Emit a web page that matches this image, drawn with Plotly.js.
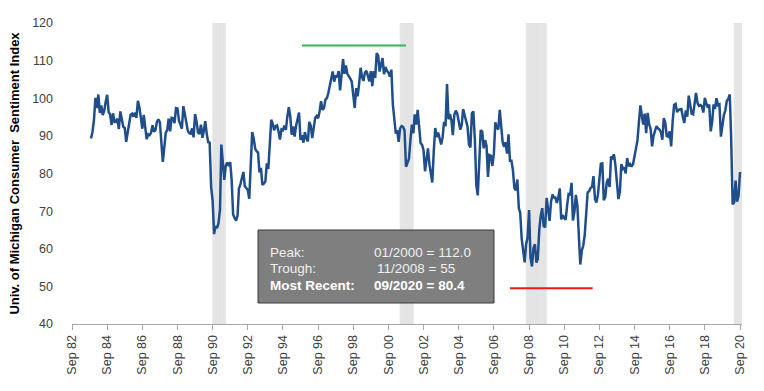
<!DOCTYPE html>
<html>
<head>
<meta charset="utf-8">
<script src="https://cdn.plot.ly/plotly-3.0.1.min.js"></script>
<style>html,body{margin:0;padding:0;background:#fff;}#chart{width:764px;height:391px;}</style>
</head>
<body>
<div id="chart"></div>
<script>
// ---- Data ----
const firstMonth = [1983, 10]; // Oct 1983
const sentiment1983 = [89.3, 91.1, 94.2];
const sentiment1984_1989 = [
  100.1, 97.4, 101.0, 96.1, 98.1, 95.5, 96.6, 99.1, 100.9, 96.3, 95.7, 92.9,
  96.0, 93.7, 93.7, 94.6, 91.8, 96.5, 94.0, 92.4, 92.1, 88.4, 90.9, 93.9,
  95.6, 95.9, 95.1, 96.2, 94.8, 99.3, 97.7, 94.9, 91.9, 95.6, 91.4, 89.1,
  90.4, 90.2, 90.8, 92.8, 91.1, 91.5, 93.7, 94.4, 93.6, 89.3, 83.1, 86.8,
  90.8, 91.6, 94.6, 91.2, 94.8, 94.7, 93.4, 97.4, 97.3, 94.1, 93.0, 91.9,
  97.9, 95.4, 94.3, 91.5, 90.7, 90.6, 92.0, 89.6, 95.8, 93.9, 90.9, 90.5];
const sentiment1990s = [
  93.0, 89.5, 91.3, 93.9, 90.6, 88.3, 88.2, 76.4, 72.8, 63.9, 66.0, 65.5,
  66.8, 70.4, 87.7, 81.8, 78.3, 82.1, 82.9, 82.0, 83.0, 78.3, 69.1, 68.2,
  67.5, 68.8, 76.0, 77.2, 79.2, 80.4, 76.6, 76.1, 75.6, 73.3, 85.3, 91.0,
  89.3, 86.6, 85.9, 85.6, 80.3, 81.5, 77.0, 77.3, 77.9, 82.7, 81.2, 88.2,
  94.3, 93.2, 91.5, 92.6, 92.8, 91.2, 89.0, 91.7, 91.5, 92.7, 91.6, 95.1,
  97.6, 95.1, 90.3, 92.5, 89.8, 92.7, 94.4, 96.2, 88.9, 90.2, 88.2, 91.0,
  89.3, 88.5, 93.7, 92.7, 89.4, 92.4, 94.7, 95.3, 94.7, 96.5, 99.2, 96.9,
  97.4, 99.7, 100.0, 101.4, 103.2, 104.5, 107.1, 104.4, 106.0, 105.6, 107.2, 102.1,
  106.6, 110.4, 106.5, 108.7, 106.5, 105.6, 105.2, 104.4, 100.9, 97.4, 102.7, 100.5,
  103.9, 108.1, 105.7, 104.6, 106.8, 107.3, 106.0, 104.5, 107.2, 103.2, 107.2, 105.4];
const sentiment2000s = [
  112.0, 111.3, 107.1, 109.2, 110.7, 106.4, 108.3, 107.3, 106.8, 105.8, 107.6, 98.4,
  94.7, 90.6, 91.5, 88.4, 92.0, 92.6, 92.4, 91.5, 81.8, 82.7, 83.9, 88.8,
  93.0, 90.7, 95.7, 93.0, 96.9, 92.4, 88.1, 87.6, 86.1, 80.6, 84.2, 86.7,
  82.4, 79.9, 77.6, 86.0, 92.1, 89.7, 90.9, 89.3, 87.7, 89.6, 93.7, 92.6,
  103.8, 94.4, 95.8, 94.2, 90.2, 95.6, 96.7, 95.9, 94.2, 91.7, 92.8, 97.1,
  95.5, 94.1, 92.6, 87.7, 86.9, 96.0, 96.5, 89.1, 76.9, 74.2, 81.6, 91.5,
  91.2, 86.7, 88.9, 87.4, 79.1, 84.9, 84.7, 82.0, 85.4, 93.6, 92.1, 91.7,
  96.9, 91.3, 88.4, 87.1, 88.3, 85.3, 90.4, 83.4, 83.4, 80.9, 76.1, 75.5,
  78.4, 70.8, 69.5, 62.6, 59.8, 56.4, 61.2, 63.0, 70.3, 57.6, 55.3, 60.1,
  61.2, 56.3, 57.3, 65.1, 68.7, 70.8, 66.0, 65.7, 73.5, 70.6, 67.4, 72.5];
const sentiment2010s = [
  74.4, 73.6, 73.6, 72.2, 73.6, 76.0, 67.8, 68.9, 68.2, 67.7, 71.6, 74.5,
  74.2, 77.5, 67.5, 69.8, 74.3, 71.5, 63.7, 55.8, 59.5, 60.8, 63.7, 69.9,
  75.0, 75.3, 76.2, 76.4, 79.3, 73.2, 72.3, 74.3, 78.3, 82.6, 82.7, 72.9,
  73.8, 77.6, 78.6, 76.4, 84.5, 84.1, 85.1, 82.1, 77.5, 73.2, 75.1, 82.5,
  81.2, 81.6, 80.0, 84.1, 81.9, 82.5, 81.8, 82.5, 84.6, 86.9, 88.8, 93.6,
  98.1, 95.4, 93.0, 95.9, 90.7, 96.1, 93.1, 91.9, 87.2, 90.0, 91.3, 92.6,
  92.0, 91.7, 91.0, 89.0, 94.7, 93.5, 90.0, 89.8, 91.2, 87.2, 93.8, 98.2,
  98.5, 96.3, 96.9, 97.0, 97.1, 95.0, 93.4, 96.8, 95.1, 100.7, 98.5, 95.9,
  95.7, 99.7, 101.4, 98.8, 98.0, 98.2, 97.9, 96.2, 100.1, 98.6, 97.5, 98.3,
  91.2, 93.8, 98.4, 97.2, 100.0, 98.2, 98.4, 89.8, 93.2, 95.5, 96.8, 99.3];
const sentiment2020 = [99.8, 101.0, 89.1, 71.8, 72.3, 78.1, 72.5, 74.1, 80.4];

// shaded recession periods: first and last shaded month
const recessionStarts = [[1990, 9], [2001, 5], [2008, 7], [2020, 5]];
const recessionEnds   = [[1991, 5], [2002, 1], [2009, 8], [2020, 10]];

const peakLineDates = ['1995-10-01', '2001-09-01'];
const peakLineLevel = 114;
const troughLineDates = ['2007-08-01', '2012-04-15'];
const troughLineLevel = 49.5;

const tickDates = ['1982-09-01','1984-09-01','1986-09-01','1988-09-01','1990-09-01','1992-09-01',
  '1994-09-01','1996-09-01','1998-09-01','2000-09-01','2002-09-01','2004-09-01','2006-09-01',
  '2008-09-01','2010-09-01','2012-09-01','2014-09-01','2016-09-01','2018-09-01','2020-09-01'];
const tickLabels = ['Sep 82','Sep 84','Sep 86','Sep 88','Sep 90','Sep 92','Sep 94','Sep 96',
  'Sep 98','Sep 00','Sep 02','Sep 04','Sep 06','Sep 08','Sep 10','Sep 12','Sep 14','Sep 16',
  'Sep 18','Sep 20'];
const yTicks = [40, 50, 60, 70, 80, 90, 100, 110, 120];

const boxLabels = ['Peak:', 'Trough:', 'Most Recent:'];
const boxValues = ['01/2000 = 112.0', '11/2008 = 55', '09/2020 = 80.4'];

// ---- Build ----
const ymd = (y, m, d) => y + '-' + String(m).padStart(2, '0') + '-' + String(d).padStart(2, '0');
const values = [].concat(sentiment1983, sentiment1984_1989, sentiment1990s, sentiment2000s, sentiment2010s, sentiment2020);
const dates = values.map((v, i) => {
  const m0 = firstMonth[1] - 1 + i;
  return ymd(firstMonth[0] + Math.floor(m0 / 12), (m0 % 12) + 1, 1);
});

// recession months as bars (one per month, gives the striped look)
const recX = [], recY = [];
recessionStarts.forEach((s, i) => {
  let y = s[0], m = s[1];
  const e = recessionEnds[i];
  while (y < e[0] || (y === e[0] && m <= e[1])) {
    recX.push(ymd(y, m, 16));
    recY.push(80);
    m++; if (m > 12) { m = 1; y++; }
  }
});

const FONT = 'Liberation Sans, Arial, sans-serif';

const traces = [
  {
    x: recX, y: recY, base: 40, type: 'bar', width: 30.4 * 86400000,
    marker: {color: '#E9E9E9', line: {color: '#DCDCDC', width: 0.4}},
    hoverinfo: 'skip', showlegend: false
  },
  {
    x: dates, y: values, type: 'scatter', mode: 'lines',
    line: {color: '#1F4E8A', width: 2.5}, hoverinfo: 'skip', showlegend: false
  },
  {
    x: peakLineDates, y: [peakLineLevel, peakLineLevel], type: 'scatter', mode: 'lines',
    line: {color: '#2DB85A', width: 2}, showlegend: false
  },
  {
    x: troughLineDates, y: [troughLineLevel, troughLineLevel], type: 'scatter', mode: 'lines',
    line: {color: '#F01818', width: 2}, showlegend: false
  }
];

// annotation box (pixel layout converted to paper coords)
const plotL = 72, plotT = 23, plotW = 764 - 72 - 22, plotH = 391 - 23 - 67;
const px = x => (x - plotL) / plotW;
const py = y => 1 - (y - plotT) / plotH;
const shapes = [{
  type: 'rect', xref: 'paper', yref: 'paper', x0: px(258), x1: px(494), y0: py(303), y1: py(230),
  fillcolor: '#7F7F7F', line: {color: '#3A3A3A', width: 1}, layer: 'above'
}];

const annotations = [];
const lineY = [252, 268.5, 285];
boxLabels.forEach((t, i) => {
  const bold = i === 2;
  const f = {family: FONT, size: 13.5, color: bold ? '#FFFFFF' : '#F0F0F0'};
  annotations.push({
    xref: 'paper', yref: 'paper', x: px(268), y: py(lineY[i]), xanchor: 'left', yanchor: 'middle',
    text: bold ? '<b>' + t + '</b>' : t, showarrow: false, font: f
  });
  annotations.push({
    xref: 'paper', yref: 'paper', x: px(i === 1 ? 375 : 372), y: py(lineY[i]), xanchor: 'left', yanchor: 'middle',
    text: bold ? '<b>' + boxValues[i] + '</b>' : boxValues[i], showarrow: false, font: f
  });
});

const layout = {
  width: 764, height: 391,
  margin: {l: 72, r: 22, t: 23, b: 67},
  paper_bgcolor: '#FFFFFF', plot_bgcolor: '#FFFFFF',
  font: {family: FONT, size: 12, color: '#404040'},
  showlegend: false, bargap: 0,
  xaxis: {
    type: 'date', range: ['1982-09-01', '2020-10-12'],
    tickvals: tickDates, ticktext: tickLabels, tickangle: -90,
    showgrid: false, zeroline: false, showline: true, linecolor: '#A6A6A6', linewidth: 1,
    ticks: 'outside', ticklen: 5, tickcolor: '#A6A6A6', tickwidth: 1,
    tickfont: {family: FONT, size: 12.5, color: '#404040'}
  },
  yaxis: {
    range: [40, 120], tickvals: yTicks, showgrid: false, zeroline: false, showline: false,
    ticks: '', ticklabelstandoff: 18,
    tickfont: {family: FONT, size: 12.5, color: '#404040'},
    title: {text: 'Univ. of Michigan Consumer&nbsp; Sentiment Index', standoff: 9,
      font: {family: FONT, size: 13, color: '#000000', weight: 'bold'}}
  },
  shapes: shapes,
  annotations: annotations
};

Plotly.newPlot('chart', traces, layout, {staticPlot: true, displayModeBar: false});
</script>
</body>
</html>
